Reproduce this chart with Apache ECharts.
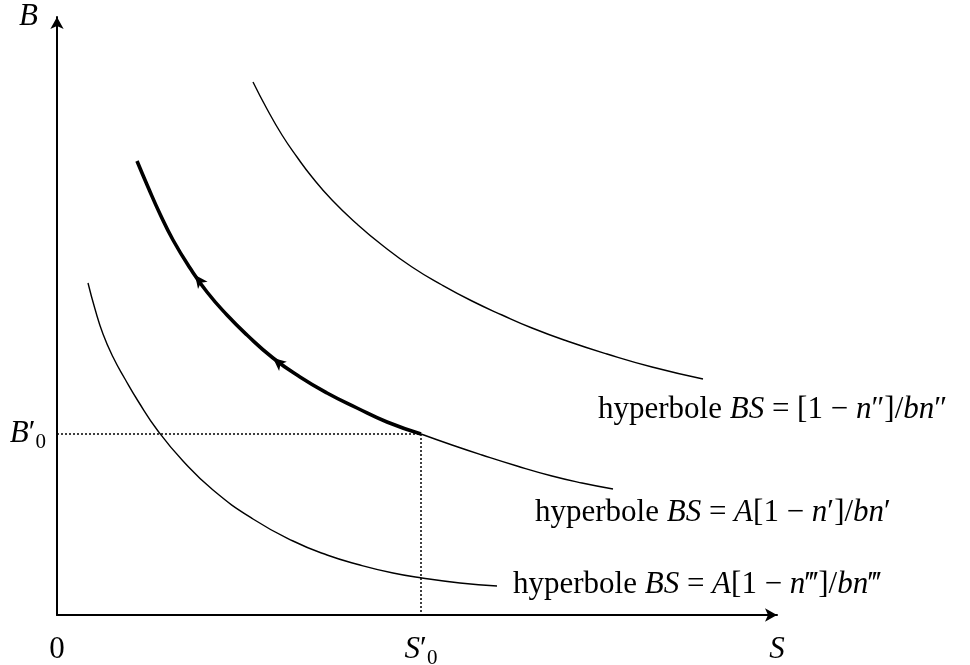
<!DOCTYPE html>
<html>
<head>
<meta charset="utf-8">
<script src="https://cdn.jsdelivr.net/npm/echarts@6/dist/echarts.min.js"></script>
<style>
    html, body {margin: 0; padding: 0; background: #fff;}
    #main_box {width: 970px; height: 665px;}
</style>
</head>
<body>
<div id="main_box"></div>
<script>
// curve points, [S, B]
let curve_top = [[196,533],[210,506],[225,480],[240,458],[255,438],[275,415],[300,391],[325,370],[355,348],[385,330],[415,314],[445,300],[475,287],[510,274],[550,261],[595,248],[646,236]];
let curve_mid_thick = [[80,454],[91,428],[103,401],[116,375],[133,347],[150,323],[170,300],[190,280],[216,257],[243,238],[270,222],[300,207],[330,193],[364,181]];
let curve_mid_thin = [[364,181],[395,170],[425,160],[460,149],[495,139],[525,132],[556,126]];
let curve_bottom = [[31,332],[38,306],[46,281],[56,258],[68,236],[81,214],[101,184],[126,154],[156,125],[196,96],[236,74],[270,60],[303,50],[336,42],[365,37],[403,32],[440,29]];

let s0 = 364;
let b0 = 181;
let s_max = 720;
let b_max = 598;

// direction arrows on the thick part
let arrow_points = [[138,340],[216,257]];
let arrow_angles = [37, 50];

let label_top = '{r|hyperbole }{i|BS}{r| = [1 − }{i|n}{r|″]/}{i|bn}{r|″}';
let label_mid = '{r|hyperbole }{i|BS}{r| = }{i|A}{r|[1 − }{i|n}{r|′]/}{i|bn}{r|′}';
let label_bottom = '{r|hyperbole }{i|BS}{r| = }{i|A}{r|[1 − }{i|n}{r|‴]/}{i|bn}{r|‴}';

let serif = '"Liberation Serif", "DejaVu Serif", serif';
let fs = 31;

function rich_style(){
    return {
        r: {fontFamily: serif, fontSize: fs, color: '#000', lineHeight: 38},
        i: {fontFamily: serif, fontSize: fs, color: '#000', fontStyle: 'italic', lineHeight: 38},
        p: {fontFamily: serif, fontSize: fs, color: '#000', lineHeight: 38},
        s: {fontFamily: serif, fontSize: 21, color: '#000', verticalAlign: 'bottom', lineHeight: 24},
        t: {fontFamily: serif, fontSize: fs, color: '#000', fontStyle: 'italic', lineHeight: 38, padding: [0, 8, 0, 0]}
    };
}

function text_point(coord, text){
    return {
        coord: coord,
        symbol: 'circle',
        symbolSize: 0,
        label: {show: true, position: 'right', distance: 0, formatter: text, rich: rich_style()}
    };
}

function data_chart(){
    let chart_box = echarts.init(document.getElementById('main_box'));
    let line_base = {type: 'line', smooth: true, symbol: 'none', silent: true};
    let arrow_marks = arrow_points.map(function(p, i){
        return {coord: p, symbol: 'arrow', symbolSize: [9, 13], symbolRotate: arrow_angles[i],
            itemStyle: {color: '#000'}, label: {show: false}};
    });

    let option = {
        animation: false,
        backgroundColor: '#fff',
        grid: {left: 57, top: 17, width: s_max, height: b_max, outerBoundsMode: 'none'},
        xAxis: {
            type: 'value', min: 0, max: s_max,
            splitLine: {show: false},
            axisTick: {show: false},
            axisLine: {lineStyle: {color: '#000', width: 2}, symbol: ['none', 'arrow'], symbolSize: [10, 12]},
            axisLabel: {
                customValues: [0, s0, s_max],
                margin: 16,
                formatter: function(v){
                    if (v === 0) return '{r|0}';
                    if (v === s0) return '{i|S}{p|′}{s|0}';
                    return '{i|S}';
                },
                rich: rich_style()
            }
        },
        yAxis: {
            type: 'value', min: 0, max: b_max,
            splitLine: {show: false},
            axisTick: {show: false},
            axisLine: {lineStyle: {color: '#000', width: 2}, symbol: ['none', 'arrow'], symbolSize: [10, 12]},
            axisLabel: {
                customValues: [b0, b_max],
                margin: 11,
                formatter: function(v){
                    if (v === b0) return '{i|B}{p|′}{s|0}';
                    return '{t|B}';
                },
                rich: rich_style()
            }
        },
        series: [
            Object.assign({}, line_base, {
                data: curve_top,
                lineStyle: {color: '#000', width: 1.4},
                markPoint: {silent: true, data: [text_point([541, 205], label_top)]}
            }),
            Object.assign({}, line_base, {
                data: curve_mid_thick,
                lineStyle: {color: '#000', width: 3.6},
                markPoint: {silent: true, data: arrow_marks},
                markLine: {
                    silent: true, symbol: 'none',
                    label: {show: false},
                    lineStyle: {color: '#000', width: 1.5, type: [2, 2]},
                    data: [
                        [{coord: [0, b0]}, {coord: [s0, b0]}],
                        [{coord: [s0, b0]}, {coord: [s0, 0]}]
                    ]
                }
            }),
            Object.assign({}, line_base, {
                data: curve_mid_thin,
                lineStyle: {color: '#000', width: 1.4},
                markPoint: {silent: true, data: [text_point([478, 102], label_mid)]}
            }),
            Object.assign({}, line_base, {
                data: curve_bottom,
                lineStyle: {color: '#000', width: 1.4},
                markPoint: {silent: true, data: [text_point([456, 30], label_bottom)]}
            })
        ]
    };
    chart_box.setOption(option);
}

data_chart();
</script>
</body>
</html>
